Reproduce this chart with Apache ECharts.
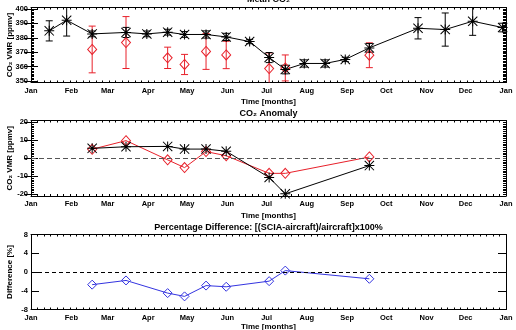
<!DOCTYPE html>
<html><head><meta charset="utf-8">
<script src="https://cdn.jsdelivr.net/npm/echarts@6/dist/echarts.min.js"></script>
<style>html,body{margin:0;padding:0;background:#fff}#c{width:516px;height:330px}</style>
</head><body><div id="c"></div>
<script>
// ---- data ----
const monthStarts = [0, 31, 59, 90, 120, 151, 181, 212, 243, 273, 304, 334, 365];
const monthLabels = ['Jan','Feb','Mar','Apr','May','Jun','Jul','Aug','Sep','Oct','Nov','Dec','Jan'];
const aircraftDays = [14, 27.4, 47, 73, 89, 105, 118, 134.5, 150, 168, 183, 195.4, 210, 226, 241.5, 260, 297.4, 318.3, 339.4, 362.4];
const aircraftMean = [384.8, 392.2, 382.7, 383.7, 382.7, 383.9, 382.3, 382.3, 380.6, 377.4, 366.3, 358.0, 362.2, 362.2, 365.0, 373.0, 386.6, 385.7, 391.5, 387.1];
const aircraftErr = [7, 11, 2, 3.5, 2, 2, 2, 2.5, 2.5, 1.5, 3.5, 3, 2.5, 2.5, 1.5, 3, 7.4, 11.5, 9.8, 3];
const sciaDays = [47, 73, 105, 118, 134.5, 150, 183, 195.4, 260];
const sciaMean = [371.9, 376.7, 366.1, 361.5, 370.5, 368.1, 358.7, 359.1, 367.9];
const sciaErr = [16.2, 18, 7.4, 7, 12.4, 9.5, 10.8, 9, 8.6];
const anomAircraft = [5.5, 6.4, 6.6, 5.1, 5.1, 3.9, -10.7, -19.8, -4.1];
const anomScia = [5, 9.8, -0.9, -5.2, 3.7, 1.4, -8.4, -8.4, 0.7];
const pctDiff = [-2.7, -1.8, -4.5, -5.2, -2.9, -3.15, -1.95, 0.3, -1.45];
const meanTicks = [350, 360, 370, 380, 390, 400];
const anomTicks = [-20, -10, 0, 10, 20];
const pctTicks = [-8, -4, 0, 4, 8];

// ---- style ----
const FONT = 'Liberation Sans, DejaVu Sans, Arial, sans-serif';
const BLACK = '#000';
const RED = '#e8202a';
const BLUE = '#3434e0';
const ASTER = 'path://M0 45 L100 45 L100 55 L0 55 Z M45 0 L55 0 L55 100 L45 100 Z M0 7 L7 0 L100 93 L93 100 Z M93 0 L100 7 L7 100 L0 93 Z M36 36 L64 36 L64 64 L36 64 Z';

const chart = echarts.init(document.getElementById('c'), null, {renderer: 'canvas'});

const grids = [
  {left: 31, right: 10, top: 7.5, height: 75, outerBoundsMode: 'none', containLabel: false},
  {left: 31, right: 10, top: 120.5, height: 75.5, outerBoundsMode: 'none', containLabel: false},
  {left: 31, right: 10, top: 234.5, height: 75, outerBoundsMode: 'none', containLabel: false}
];

const lblStyle = {fontFamily: FONT, fontWeight: 'bold', fontSize: 7.5, color: BLACK};
const nameStyle = {fontFamily: FONT, fontWeight: 'bold', fontSize: 8, color: BLACK};

const xAxes = [];
grids.forEach((g, gi) => {
  ['bottom', 'top'].forEach(pos => {
    xAxes.push({
      type: 'value', gridIndex: gi, position: pos, min: 0, max: 365, interval: 5,
      axisLine: {show: true, onZero: false, lineStyle: {color: BLACK, width: 1}},
      axisTick: {show: true, inside: true, length: 2, lineStyle: {color: BLACK}},
      axisLabel: pos === 'bottom' ? {show: true, customValues: monthStarts, margin: 4,
        formatter: v => monthLabels[monthStarts.indexOf(v)], ...lblStyle} : {show: false},
      splitLine: {show: false},
      name: pos === 'bottom' ? 'Time [months]' : '',
      nameLocation: 'middle', nameGap: gi === 2 ? 13 : 15.5, nameMoveOverlap: false, nameTextStyle: nameStyle
    });
  });
});

const yAxes = [];
function addY(gi, min, max, interval, majors, name, minor) {
  ['left', 'right'].forEach(pos => {
    yAxes.push({
      type: 'value', gridIndex: gi, position: pos, min: min, max: max, interval: interval,
      axisLine: {show: true, onZero: false, lineStyle: {color: BLACK, width: 1}},
      axisTick: {show: true, inside: true, length: minor ? 3 : 8, lineStyle: {color: BLACK}},
      axisLabel: pos === 'left' ? {show: true, customValues: majors, margin: 3, ...lblStyle} : {show: false},
      splitLine: {show: false},
      name: pos === 'left' ? name : '', nameLocation: 'middle', nameRotate: 90, nameGap: 17,
      nameMoveOverlap: false, nameTextStyle: nameStyle
    });
    if (minor) {
      yAxes.push({
        type: 'value', gridIndex: gi, position: pos, min: min, max: max, interval: interval,
        axisLine: {show: false},
        axisTick: {show: true, inside: true, length: 7, customValues: majors, lineStyle: {color: BLACK}},
        axisLabel: {show: false}, splitLine: {show: false}
      });
    }
  });
}
addY(0, 349, 401, 1, meanTicks, 'CO₂ VMR [ppmv]', true);   // y 0..3
addY(1, -21, 21, 1, anomTicks, 'CO₂ VMR [ppmv]', true);    // y 4..7
addY(2, -8, 8, 4, pctTicks, 'Difference [%]', false);      // y 8..9

function errorBars(xi, yi, days, vals, errs, color) {
  return {
    type: 'custom', xAxisIndex: xi, yAxisIndex: yi, z: 2,
    data: days.map((d, i) => [d, vals[i] - errs[i], vals[i] + errs[i]]),
    renderItem: function (params, api) {
      const cs = params.coordSys;
      const x = api.value(0);
      const lo = api.coord([x, api.value(1)]);
      const hi = api.coord([x, api.value(2)]);
      const top = cs.y, bot = cs.y + cs.height;
      const yHi = Math.max(hi[1], top), yLo = Math.min(lo[1], bot);
      const w = 3.5;
      const st = {stroke: color, lineWidth: 1};
      const ch = [{type: 'line', shape: {x1: lo[0], y1: yLo, x2: hi[0], y2: yHi}, style: st}];
      if (hi[1] >= top) ch.push({type: 'line', shape: {x1: hi[0] - w, y1: hi[1], x2: hi[0] + w, y2: hi[1]}, style: st});
      if (lo[1] <= bot) ch.push({type: 'line', shape: {x1: lo[0] - w, y1: lo[1], x2: lo[0] + w, y2: lo[1]}, style: st});
      return {type: 'group', children: ch};
    }
  };
}
function zip(a, b) { return a.map((v, i) => [v, b[i]]); }

const zeroLine = (color, dash) => ({
  silent: true, symbol: 'none', label: {show: false},
  lineStyle: {color: color, type: dash, width: 1}, data: [{yAxis: 0}]
});

const titleStyle = {fontFamily: FONT, fontWeight: 'bold', fontSize: 9, color: BLACK};
const option = {
  animation: false,
  backgroundColor: '#fff',
  title: [
    {text: 'Mean CO₂', left: 268.5, textAlign: 'center', top: -4.5, padding: 0, textStyle: titleStyle},
    {text: 'CO₂ Anomaly', left: 268.5, textAlign: 'center', top: 109.5, padding: 0, textStyle: titleStyle},
    {text: 'Percentage Difference: [(SCIA-aircraft)/aircraft]x100%', left: 268.5, textAlign: 'center', top: 223, padding: 0, textStyle: titleStyle}
  ],
  grid: grids,
  xAxis: xAxes,
  yAxis: yAxes,
  series: [
    // panel 1
    errorBars(0, 0, sciaDays, sciaMean, sciaErr, RED),
    errorBars(0, 0, aircraftDays, aircraftMean, aircraftErr, BLACK),
    {type: 'line', xAxisIndex: 0, yAxisIndex: 0, data: zip(sciaDays, sciaMean),
     lineStyle: {opacity: 0}, symbol: 'diamond', symbolSize: [9, 10],
     itemStyle: {color: 'rgba(255,255,255,0)', borderColor: RED, borderWidth: 1}},
    {type: 'line', xAxisIndex: 0, yAxisIndex: 0, data: zip(aircraftDays, aircraftMean),
     lineStyle: {color: BLACK, width: 1}, symbol: ASTER, symbolSize: 10,
     itemStyle: {color: BLACK, borderWidth: 0}},
    // panel 2
    {type: 'line', xAxisIndex: 2, yAxisIndex: 4, data: zip(sciaDays, anomScia),
     lineStyle: {color: RED, width: 1}, symbol: 'diamond', symbolSize: [9, 10],
     itemStyle: {color: 'rgba(255,255,255,0)', borderColor: RED, borderWidth: 1},
     markLine: zeroLine('#555', [5, 3])},
    {type: 'line', xAxisIndex: 2, yAxisIndex: 4, data: zip(sciaDays, anomAircraft),
     lineStyle: {color: BLACK, width: 1}, symbol: ASTER, symbolSize: 10,
     itemStyle: {color: BLACK, borderWidth: 0}},
    // panel 3
    {type: 'line', xAxisIndex: 4, yAxisIndex: 8, data: zip(sciaDays, pctDiff),
     lineStyle: {color: BLUE, width: 1}, symbol: 'diamond', symbolSize: [9, 9],
     itemStyle: {color: 'rgba(255,255,255,0)', borderColor: BLUE, borderWidth: 1},
     markLine: zeroLine(BLACK, [4, 3])}
  ]
};
chart.setOption(option);
</script></body></html>
